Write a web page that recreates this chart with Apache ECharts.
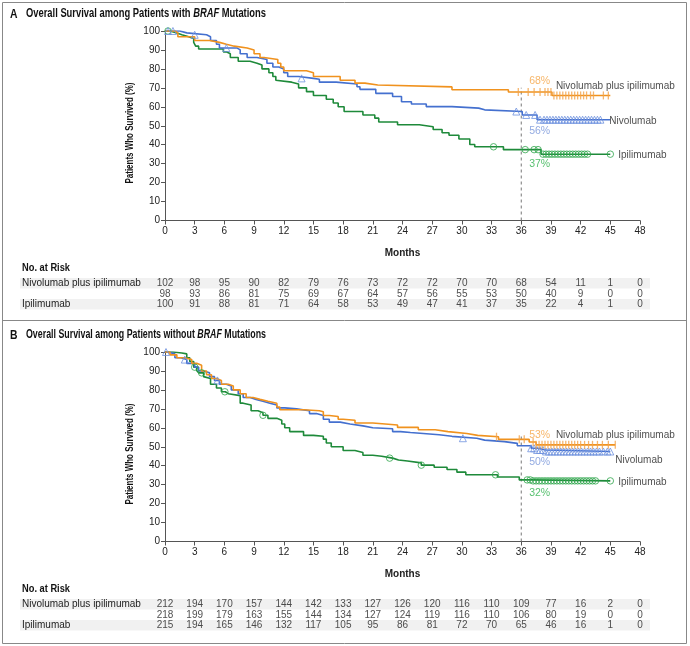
<!DOCTYPE html>
<html><head><meta charset="utf-8">
<script src="https://cdn.jsdelivr.net/npm/echarts@6/dist/echarts.min.js"></script>
<style>html,body{margin:0;padding:0;background:#fff}#c{width:690px;height:646px}</style>
</head><body><div id="c"></div>
<script>
const FONT = '"Liberation Sans", Arial, sans-serif';
const groups = ['Nivolumab plus ipilimumab', 'Nivolumab', 'Ipilimumab'];
const riskMonths = [0, 3, 6, 9, 12, 15, 18, 21, 24, 27, 30, 33, 36, 39, 42, 45, 48];

const riskA_combo = [102, 98, 95, 90, 82, 79, 76, 73, 72, 72, 70, 70, 68, 54, 11, 1, 0];
const riskA_nivo  = [98, 93, 86, 81, 75, 69, 67, 64, 57, 56, 55, 53, 50, 40, 9, 0, 0];
const riskA_ipi   = [100, 91, 88, 81, 71, 64, 58, 53, 49, 47, 41, 37, 35, 22, 4, 1, 0];
const riskB_combo = [212, 194, 170, 157, 144, 142, 133, 127, 126, 120, 116, 110, 109, 77, 16, 2, 0];
const riskB_nivo  = [218, 199, 179, 163, 155, 144, 134, 127, 124, 119, 116, 110, 106, 80, 19, 0, 0];
const riskB_ipi   = [215, 194, 165, 146, 132, 117, 105, 95, 86, 81, 72, 70, 65, 46, 16, 1, 0];

const pctA = [68, 56, 37];
const pctB = [53, 50, 32];
const landmark = 36;

// Kaplan-Meier step points [month, % surviving]
const kmA_combo = [[0,100],[1.0,99],[1.3,97],[3.0,95],[4.5,94],[5.5,93],[6.2,92],[7.0,91],[8.3,90],[9.0,88],[9.6,86],[10.0,85],[11.4,83],[11.7,81],[12.0,79],[14.3,78],[15.0,76],[17.7,74],[19.2,72.5],[20.2,71.5],[21.5,70.5],[29.0,69],[34.7,67.8],[39.1,66],[45.0,66]];
const kmA_nivo = [[0,100],[1.5,99],[2.2,98],[4.2,97],[4.6,95],[5.2,93],[5.5,91],[7.3,90],[7.6,88],[8.3,86],[9.3,85],[10.3,83],[10.9,81],[11.5,80],[12.0,78],[12.4,76],[13.5,75],[15.0,74.5],[15.6,73],[17.3,72],[19.4,70.6],[19.7,69.2],[21.3,67.1],[23.0,65.4],[23.9,62.7],[24.9,61.5],[26.4,60.1],[29.0,59.3],[31.7,58.4],[32.3,57.5],[36.1,55.7],[37.6,53.2],[45.0,53.2]];
const kmA_ipi = [[0,100],[0.5,99],[1.2,98],[1.7,97],[2.4,96],[2.9,94],[3.1,92],[3.4,90.5],[5.9,89],[6.2,88],[6.6,86],[7.4,84],[8.6,83],[9.3,82],[9.8,80],[10.5,78],[10.9,76],[11.2,74],[11.4,73],[12.8,72],[13.5,70],[14.3,68],[15.0,66],[16.3,64],[17.0,62],[17.5,60],[18.1,57.5],[20.0,55.7],[21.2,54],[21.6,52],[23.5,50.5],[25.7,49.5],[27.1,48],[28.0,46.3],[28.7,45],[29.7,43],[30.8,40.1],[31.3,38.9],[34.2,37.4],[38.0,35],[45.0,35]];

const kmB_combo = [[0,100],[0.5,98.5],[1.2,97],[2.0,96],[2.7,94],[3.2,93],[3.7,90],[4.2,88],[4.7,86],[5.2,85],[5.7,83],[6.4,82],[6.9,80],[7.6,78],[8.2,76],[8.9,75],[9.6,74],[10.4,73],[11.3,71],[11.6,69.5],[14.0,69],[15.6,68.5],[16.0,66.5],[16.6,66],[17.5,64.5],[18.0,64],[19.2,62.5],[21.0,61.5],[23.5,60.2],[25.6,59],[27.3,58],[28.6,57],[30.5,56],[31.6,55.3],[33.7,53.9],[36.8,52.5],[37.5,51],[45.5,51]];
const kmB_nivo = [[0,100],[0.3,99],[1.0,97],[1.6,96],[2.2,94],[3.0,92],[3.4,90],[3.9,89],[4.5,87],[5.0,85],[5.5,83],[6.2,82],[6.7,80],[7.4,78],[7.9,76],[8.6,75],[9.2,74],[9.9,73],[10.6,72],[11.3,70.5],[12.1,70],[13.3,69],[14.6,67.5],[15.3,66.5],[16.0,64.5],[16.6,63],[17.7,62],[18.7,61],[20.0,60],[21.0,59.5],[23.0,58],[23.8,57.5],[24.8,57],[26.1,56.3],[27.7,55.5],[29.0,54.5],[31.5,53.5],[32.3,52.7],[34.3,51.8],[35.6,50.5],[37.0,49.2],[37.6,48.3],[38.5,47.5],[45.0,47.5]];
const kmB_ipi = [[0,100],[0.8,99.5],[1.7,99],[2.2,97],[2.5,95],[2.9,92],[3.2,90.3],[3.4,89],[3.9,87],[4.1,86],[4.6,83],[5.2,81],[5.7,79],[6.1,78],[6.4,77],[7.6,73],[7.9,72],[8.7,69],[9.4,68],[9.9,66.6],[10.4,65],[11.3,64],[11.8,62],[12.1,60],[12.6,58],[14.0,56],[15.0,55.5],[16.0,54],[16.3,52],[16.8,50],[18.0,48],[19.2,47],[20.0,45.5],[21.0,45],[21.9,44],[23.0,43],[23.6,42.5],[24.5,41.5],[25.9,40.3],[27.2,39.2],[28.5,38],[29.5,36.6],[30.4,35.2],[33.6,34],[35.8,32.5],[37.0,32],[45.0,32]];

// censoring times (months)
const cenA_combo = [35.7,36.7,37.3,37.9,38.4,38.7,39.0,39.3,39.6,39.9,40.2,40.5,40.8,41.1,41.4,41.7,42.0,42.3,42.6,43.0,43.3,44.3,44.8];
const cenA_nivo = [0.3,0.8,3.0,6.2,13.8,35.5,36.5,37.4,37.9,38.3,38.6,38.9,39.2,39.5,39.8,40.1,40.4,40.7,41.0,41.3,41.6,41.9,42.2,42.5,42.8,43.1,43.4,43.7,44.0];
const cenA_ipi = [0.3,33.2,36.4,37.3,37.7,38.2,38.5,38.8,39.1,39.4,39.7,40.0,40.3,40.6,40.9,41.2,41.5,41.8,42.1,42.4,42.7,45.0];
const cenB_combo = [33.5,35.8,36.3,37.2,37.5,37.8,38.1,38.4,38.7,39.0,39.3,39.6,39.9,40.2,40.5,40.8,41.1,41.4,41.7,42.0,42.4,42.8,43.2,43.7,44.2,44.8,45.5];
const cenB_nivo = [0.1,2.0,5.3,30.1,37.0,37.3,37.6,37.9,38.2,38.5,38.8,39.1,39.4,39.7,40.0,40.3,40.6,40.9,41.2,41.5,41.8,42.1,42.4,42.7,43.0,43.3,43.6,43.9,44.3,44.7,45.0];
const cenB_ipi = [3.0,3.7,6.05,9.9,22.7,25.9,33.4,36.6,36.9,37.2,37.5,37.8,38.1,38.4,38.7,39.0,39.3,39.6,39.9,40.2,40.5,40.8,41.1,41.4,41.7,42.0,42.3,42.6,42.9,43.2,43.5,45.0];

const COL = {
  combo: '#F0921E', nivo: '#4470CF', ipi: '#1E8A3A',
  comboMark: '#F2A24A', nivoMark: '#6F92DE', ipiMark: '#2FA64C',
  comboPct: '#F5A444', nivoPct: '#7694DA', ipiPct: '#2DB04B'
};

function stepVal(curve, t) {
  let v = curve[0][1];
  for (const p of curve) { if (p[0] <= t) v = p[1]; }
  return v;
}

const mctx = document.createElement('canvas').getContext('2d');
function textW(str, size, weight, style) {
  mctx.font = (style || 'normal') + ' ' + (weight || 'normal') + ' ' + size + 'px ' + FONT;
  return mctx.measureText(str).width;
}

const chart = echarts.init(document.getElementById('c'), null, {renderer: 'canvas'});

const grid = [], xAxis = [], yAxis = [], series = [], graphic = [];

function panel(p, dy, letter, before, italic, after, km, cen, risk, pct, labelY, dashTop) {
  const gMain = p * 2, gRisk = p * 2 + 1;
  grid.push({left: 165, right: 50, top: 31 + dy, height: 189.5, containLabel: false});
  grid.push({left: 165, right: 50, top: 278 + dy, height: 31.5, containLabel: false});
  xAxis.push({
    gridIndex: gMain, type: 'value', min: 0, max: 48, interval: 3,
    name: 'Months', nameLocation: 'middle', nameGap: 28,
    nameTextStyle: {fontFamily: FONT, fontSize: 10, fontWeight: 'bold', color: '#222'},
    axisLine: {lineStyle: {color: '#555', width: 1}},
    axisTick: {length: 4, lineStyle: {color: '#555'}},
    axisLabel: {fontFamily: FONT, fontSize: 10, color: '#222', margin: 6},
    splitLine: {show: false}
  });
  xAxis.push({gridIndex: gRisk, type: 'value', min: 0, max: 48, show: false});
  yAxis.push({
    gridIndex: gMain, type: 'value', min: 0, max: 100, interval: 10,
    axisLine: {show: true, lineStyle: {color: '#555', width: 1}},
    axisTick: {show: true, length: 4, lineStyle: {color: '#555'}},
    axisLabel: {fontFamily: FONT, fontSize: 10, color: '#222', margin: 5},
    splitLine: {show: false}
  });
  yAxis.push({
    gridIndex: gRisk, type: 'category', data: groups, inverse: true,
    axisLine: {show: false}, axisTick: {show: false},
    axisLabel: {fontFamily: FONT, fontSize: 10, color: '#222', align: 'left', margin: 143}
  });

  const keys = ['ipi', 'nivo', 'combo'];
  const kmMap = {combo: km[0], nivo: km[1], ipi: km[2]};
  const cenMap = {combo: cen[0], nivo: cen[1], ipi: cen[2]};
  series.push({
    type: 'line', xAxisIndex: gMain, yAxisIndex: gMain, symbol: 'none', silent: true,
    data: [[landmark, 0], [landmark, dashTop]],
    lineStyle: {color: '#777', width: 1, type: [3, 3]}, z: 1
  });
  keys.forEach(k => {
    series.push({
      type: 'line', step: 'end', xAxisIndex: gMain, yAxisIndex: gMain, symbol: 'none',
      data: kmMap[k], lineStyle: {color: COL[k], width: 1.6}, z: 2
    });
  });
  keys.forEach(k => {
    const pts = cenMap[k].map(t => [t, stepVal(kmMap[k], t)]);
    let s = {type: 'scatter', xAxisIndex: gMain, yAxisIndex: gMain, data: pts, z: 3, silent: true};
    if (k === 'combo') {
      s.symbol = 'path://M0,0h1v10h-1z'; s.symbolSize = [1.3, 8];
      s.itemStyle = {color: COL.comboMark};
    } else if (k === 'nivo') {
      s.symbol = 'triangle'; s.symbolSize = 7;
      s.itemStyle = {color: 'rgba(0,0,0,0)', borderColor: COL.nivoMark, borderWidth: 1};
    } else {
      s.symbol = 'circle'; s.symbolSize = 6.5;
      s.itemStyle = {color: 'rgba(0,0,0,0)', borderColor: COL.ipiMark, borderWidth: 1};
    }
    series.push(s);
  });
  const pctCols = [COL.comboPct, COL.nivoPct, COL.ipiPct];
  const pctData = pct.map((v, i) => ({value: [36.8, labelY.pct[i]], label: {formatter: v + '%', color: pctCols[i]}}));
  series.push({
    type: 'scatter', xAxisIndex: gMain, yAxisIndex: gMain, symbolSize: 0, silent: true, z: 4,
    data: pctData,
    label: {show: true, position: 'right', distance: 0, fontFamily: FONT, fontSize: 10.5}
  });
  const nameData = groups.map((g, i) => ({value: [labelY.nameX[i], labelY.name[i]], label: {formatter: g}}));
  series.push({
    type: 'scatter', xAxisIndex: gMain, yAxisIndex: gMain, symbolSize: 0, silent: true, z: 4,
    data: nameData,
    label: {show: true, position: 'right', distance: 0, fontFamily: FONT, fontSize: 10, color: '#222'}
  });
  const riskData = [];
  risk.forEach((row, r) => row.forEach((v, i) => riskData.push([riskMonths[i], r, v])));
  series.push({
    type: 'scatter', xAxisIndex: gRisk, yAxisIndex: gRisk, symbolSize: 0, silent: true,
    data: riskData,
    label: {show: true, position: 'inside', formatter: d => String(d.value[2]),
            fontFamily: FONT, fontSize: 10, color: '#222'}
  });

  // Panel heading (condensed to match the original's narrow typeface)
  const letterW = textW(letter, 13, 'bold');
  graphic.push({type: 'text', x: 10, y: 14 + dy, scaleX: 7.5 / letterW, silent: true,
    style: {text: letter, fontFamily: FONT, fontSize: 13, fontWeight: 'bold', fill: '#111', verticalAlign: 'middle'}});
  const hw = textW(before, 12.5, 'bold') + textW(italic, 12.5, 'bold', 'italic') + textW(after, 12.5, 'bold');
  graphic.push({type: 'text', x: 26, y: 14 + dy, scaleX: 240 / hw, silent: true,
    style: {
      text: '{t|' + before + '}{i|' + italic + '}{t|' + after + '}', verticalAlign: 'middle',
      rich: {
        t: {fontFamily: FONT, fontSize: 12.5, fontWeight: 'bold', fill: '#111'},
        i: {fontFamily: FONT, fontSize: 12.5, fontWeight: 'bold', fontStyle: 'italic', fill: '#111'}
      }
    }});
  // y-axis title
  const yName = 'Patients Who Survived (%)';
  graphic.push({type: 'text', x: 130, y: 133 + dy, rotation: Math.PI / 2, scaleX: 101 / textW(yName, 11, 'bold'), silent: true,
    style: {text: yName, fontFamily: FONT, fontSize: 11, fontWeight: 'bold', fill: '#111', align: 'center', verticalAlign: 'middle'}});
  // No. at Risk
  const nr = 'No. at Risk';
  graphic.push({type: 'text', x: 22, y: 268 + dy, scaleX: 48 / textW(nr, 11.5, 'bold'), silent: true,
    style: {text: nr, fontFamily: FONT, fontSize: 11.5, fontWeight: 'bold', fill: '#111', verticalAlign: 'middle'}});
  [0, 2].forEach(r => graphic.push({
    type: 'rect', shape: {x: 20, y: 278 + dy + r * 10.5, width: 630, height: 10.5},
    style: {fill: '#f1f1f1'}, z: -10, silent: true
  }));
}

panel(0, 0, 'A', 'Overall Survival among Patients with ', 'BRAF', ' Mutations',
  [kmA_combo, kmA_nivo, kmA_ipi], [cenA_combo, cenA_nivo, cenA_ipi],
  [riskA_combo, riskA_nivo, riskA_ipi], pctA,
  {pct: [73.4, 47, 29.9], name: [71, 52.6, 34.6], nameX: [39.5, 44.9, 45.8]}, 70);
panel(1, 321, 'B', 'Overall Survival among Patients without ', 'BRAF', ' Mutations',
  [kmB_combo, kmB_nivo, kmB_ipi], [cenB_combo, cenB_nivo, cenB_ipi],
  [riskB_combo, riskB_nivo, riskB_ipi], pctB,
  {pct: [56, 42.1, 25.7], name: [56, 42.9, 31.5], nameX: [39.5, 45.5, 45.8]}, 56);

graphic.push({type: 'rect', shape: {x: 2.5, y: 2.5, width: 684, height: 641}, style: {fill: 'none', stroke: '#888', lineWidth: 1}, silent: true});
graphic.push({type: 'line', shape: {x1: 2.5, y1: 320.5, x2: 686.5, y2: 320.5}, style: {stroke: '#888', lineWidth: 1}, silent: true});

chart.setOption({
  animation: false,
  backgroundColor: '#fff',
  grid, xAxis, yAxis, series, graphic
});
</script>
</body></html>
